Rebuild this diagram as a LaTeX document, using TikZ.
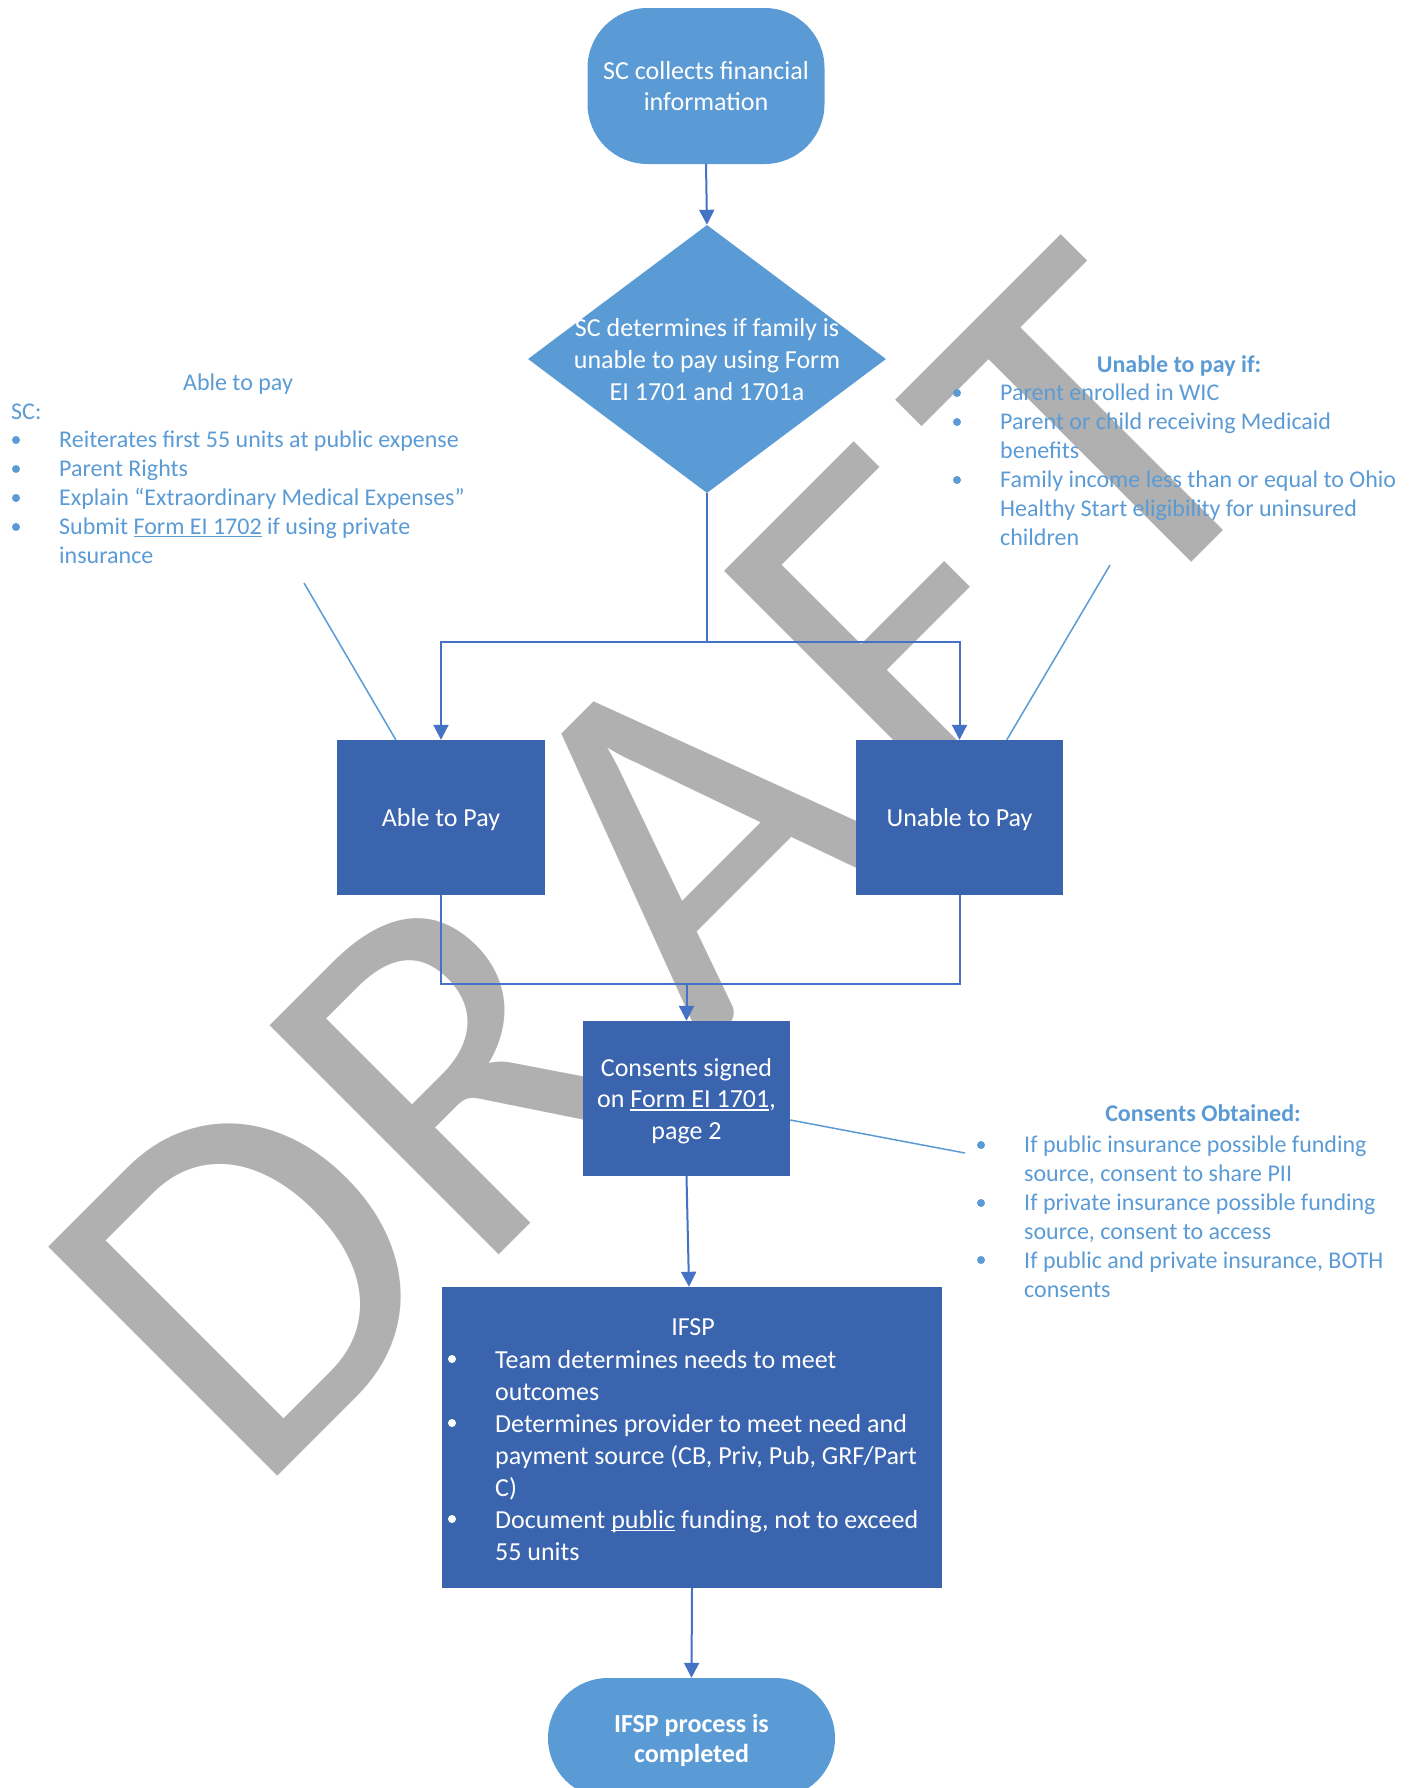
\documentclass[tikz,border=0pt]{standalone}
\usepackage{fontspec}
\setmainfont{Carlito}
\usetikzlibrary{arrows.meta,shapes.geometric,calc}
\definecolor{lightblue}{RGB}{91,155,213}
\definecolor{darkblue}{RGB}{58,100,173}
\definecolor{arrowblue}{RGB}{68,114,196}
\definecolor{wmgray}{RGB}{176,176,176}
\newsavebox\ulbox
\newcommand\myul[1]{\sbox\ulbox{#1}\rlap{\rule[-0.13em]{\wd\ulbox}{0.055em}}\usebox\ulbox}
\begin{document}
\begin{tikzpicture}[x=1pt,y=-1pt,
  flow/.style={draw=arrowblue, line width=2pt, -{Triangle[width=15pt,length=15pt]}},
  plainflow/.style={draw=arrowblue, line width=2pt},
  note/.style={draw=lightblue, line width=1.5pt},
  term/.style={fill=lightblue, rounded corners=60pt, inner sep=0pt, text=white, align=center, text depth=0pt},
  box/.style={fill=darkblue, inner sep=0pt, text=white, align=center, text depth=0pt, font=\fontsize{26}{31.5}\selectfont},
  ntext/.style={text=lightblue, font=\fontsize{24}{29}\selectfont, inner sep=0pt},
  nbold/.style={text=lightblue, font=\bfseries\fontsize{24}{29}\selectfont, inner sep=0pt},
  wtext/.style={text=white, font=\fontsize{26}{32}\selectfont, inner sep=0pt},
  ndot/.style={circle, fill=lightblue, inner sep=0pt, minimum size=8pt},
  wdot/.style={circle, fill=white, inner sep=0pt, minimum size=8pt},
  ]
\useasboundingbox (0,0) rectangle (1413,1788);
% watermark
\node[text=wmgray, font=\fontsize{505}{505}\selectfont\addfontfeatures{Kerning=Off}, rotate=45, anchor=base west, inner sep=0pt] (wm) at (253,1501) {D\kern2pt R\kern50pt A\kern28pt F\kern38pt T};

% main shapes
\node[term, minimum width=237pt, minimum height=156pt, font=\fontsize{26}{31}\selectfont] (start) at (706,86) {SC collects financial\\information};
\node[diamond, fill=lightblue, minimum width=358pt, minimum height=268pt, inner sep=0pt] (dec) at (707,359) {};
\node[wtext, align=center, text depth=0pt] (dectext) at (dec.center) {SC determines if family is\\unable to pay using Form\\EI 1701 and 1701a};
\node[box, minimum width=208pt, minimum height=155pt] (able) at (441,817.5) {Able to Pay};
\node[box, minimum width=207pt, minimum height=155pt] (unable) at (959.5,817.5) {Unable to Pay};
\node[box, minimum width=207pt, minimum height=155pt] (consents) at (686.5,1098.5) {Consents signed\\on \myul{Form EI 1701},\\page 2};
\node[fill=darkblue, minimum width=500pt, minimum height=301pt, inner sep=0pt] (ifsp) at (692,1437.5) {};
\node[term, minimum width=287pt, minimum height=120pt, font=\bfseries\fontsize{26}{30}\selectfont] (end) at (691.5,1738) {IFSP process is\\completed};

% IFSP text
\node[wtext, anchor=base] (i0) at (693,1335) {IFSP};
\node[wdot] (id1) at (452,1359) {};
\node[wdot] (id2) at (452,1423) {};
\node[wdot] (id3) at (452,1519) {};
\node[wtext, anchor=base west] (i1) at (495,1368) {Team determines needs to meet};
\node[wtext, anchor=base west] (i2) at (495,1400) {outcomes};
\node[wtext, anchor=base west] (i3) at (495,1432) {Determines provider to meet need and};
\node[wtext, anchor=base west] (i4) at (495,1464) {payment source (CB, Priv, Pub, GRF/Part};
\node[wtext, anchor=base west] (i5) at (495,1496) {C)};
\node[wtext, anchor=base west] (i6) at (495,1528) {Document \myul{public} funding, not to exceed};
\node[wtext, anchor=base west] (i7) at (495,1560) {55 units};

% connectors
\coordinate (split) at (707,642);
\coordinate (merge) at (686.5,984);
\draw[flow] (start.south) -- (dec.north);
\draw[plainflow] (dec.south) -- (split);
\draw[flow] (split) -| (able.north);
\draw[flow] (split) -| (unable.north);
\draw[plainflow] (able.south) |- (merge);
\draw[plainflow] (unable.south) |- (merge);
\draw[flow] (merge) -- (consents.north);
\draw[flow] (consents.south) -- ($(ifsp.north)+(-3,0)$);
\draw[flow] (ifsp.south) -- (end.north);

% left annotation
\node[ntext, anchor=base] (la0) at (238,390) {Able to pay};
\node[ntext, anchor=base west] (la1) at (11,419) {SC:};
\node[ndot] (ld1) at (16,440) {};
\node[ndot] (ld2) at (16,469) {};
\node[ndot] (ld3) at (16,498) {};
\node[ndot] (ld4) at (16,527) {};
\node[ntext, anchor=base west] (la2) at (59,447) {Reiterates first 55 units at public expense};
\node[ntext, anchor=base west] (la3) at (59,476) {Parent Rights};
\node[ntext, anchor=base west] (la4) at (59,505) {Explain “Extraordinary Medical Expenses”};
\node[ntext, anchor=base west] (la5) at (59,534) {Submit \myul{Form EI 1702} if using private};
\node[ntext, anchor=base west] (la6) at (59,563) {insurance};
\coordinate (lnote) at (304,583);
\draw[note] (lnote) -- ($(able.north west)+(59,0)$);

% right annotation
\node[nbold, anchor=base] (ra0) at (1179,372) {Unable to pay if:};
\node[ndot] (rd1) at (957,393) {};
\node[ndot] (rd2) at (957,422) {};
\node[ndot] (rd3) at (957,480) {};
\node[ntext, anchor=base west] (ra1) at (1000,400) {Parent enrolled in WIC};
\node[ntext, anchor=base west] (ra2) at (1000,429) {Parent or child receiving Medicaid};
\node[ntext, anchor=base west] (ra3) at (1000,458) {benefits};
\node[ntext, anchor=base west] (ra4) at (1000,487) {Family income less than or equal to Ohio};
\node[ntext, anchor=base west] (ra5) at (1000,516) {Healthy Start eligibility for uninsured};
\node[ntext, anchor=base west] (ra6) at (1000,545) {children};
\coordinate (rnote) at (1110,565);
\draw[note] (rnote) -- ($(unable.north west)+(151,0)$);

% consents annotation
\node[nbold, anchor=base] (ca0) at (1203,1121) {Consents Obtained:};
\node[ndot] (cd1) at (981,1145) {};
\node[ndot] (cd2) at (981,1203) {};
\node[ndot] (cd3) at (981,1260) {};
\node[ntext, anchor=base west] (ca1) at (1024,1152) {If public insurance possible funding};
\node[ntext, anchor=base west] (ca2) at (1024,1181) {source, consent to share PII};
\node[ntext, anchor=base west] (ca3) at (1024,1210) {If private insurance possible funding};
\node[ntext, anchor=base west] (ca4) at (1024,1239) {source, consent to access};
\node[ntext, anchor=base west] (ca5) at (1024,1268) {If public and private insurance, BOTH};
\node[ntext, anchor=base west] (ca6) at (1024,1297) {consents};
\coordinate (cnote) at (965,1153);
\draw[note] ($(consents.east)+(0,21.5)$) -- (cnote);
\end{tikzpicture}
\end{document}
